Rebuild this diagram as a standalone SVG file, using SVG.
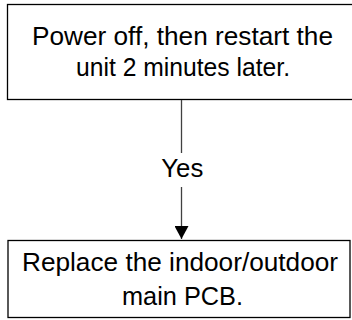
<svg xmlns="http://www.w3.org/2000/svg" width="352" height="320" viewBox="0 0 352 320">
<defs>
<style>
.box{fill:#fff;stroke:#000;stroke-width:1.3}
.t{font-family:"Liberation Sans",Arial,sans-serif;font-size:26px;fill:#000;text-anchor:middle}
.conn{stroke:#404040;stroke-width:1.3;fill:none}
</style>
<marker id="arr" markerWidth="14" markerHeight="14" refX="13" refY="7" orient="auto" markerUnits="userSpaceOnUse">
<path d="M0,0 L13,7 L0,14 Z" fill="#000"/>
</marker>
</defs>
<g id="n1">
<rect class="box" x="7.5" y="4.5" width="350" height="95"/>
<text class="t" x="182.5" y="45" textLength="301" lengthAdjust="spacingAndGlyphs">Power off, then restart the</text>
<text class="t" x="183" y="76" textLength="214" lengthAdjust="spacingAndGlyphs">unit 2 minutes later.</text>
</g>
<g id="n2">
<rect class="box" x="8" y="240.5" width="342" height="77"/>
<text class="t" x="180" y="271" textLength="316" lengthAdjust="spacingAndGlyphs">Replace the indoor/outdoor</text>
<text class="t" x="182.5" y="305" textLength="121" lengthAdjust="spacingAndGlyphs">main PCB.</text>
</g>
<g id="connectors">
<line class="conn" x1="181.5" y1="100" x2="181.5" y2="153"/>
<line class="conn" x1="181.5" y1="187" x2="181.5" y2="239" marker-end="url(#arr)"/>
<text class="t" x="182.3" y="177" textLength="42" lengthAdjust="spacingAndGlyphs">Yes</text>
</g>
</svg>
